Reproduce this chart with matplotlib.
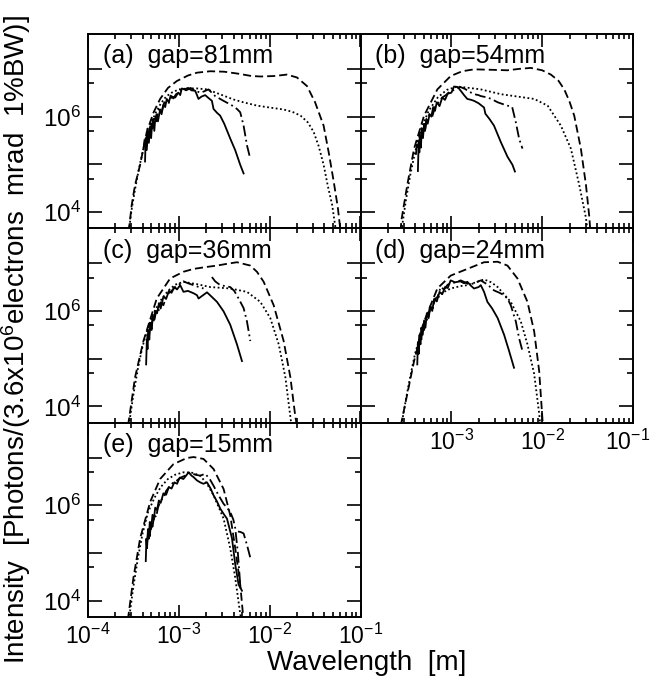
import numpy as np
import matplotlib
matplotlib.use("Agg")
import matplotlib.pyplot as plt
from matplotlib.ticker import FixedLocator, FixedFormatter, NullFormatter
from matplotlib.transforms import ScaledTranslation

plt.rcParams['font.family'] = ['Liberation Sans', 'DejaVu Sans']
plt.rcParams['mathtext.fontset'] = 'custom'
plt.rcParams['mathtext.rm'] = 'Liberation Sans'
plt.rcParams['mathtext.it'] = 'Liberation Sans:italic'
plt.rcParams['mathtext.bf'] = 'Liberation Sans:bold'

# ---------------- data (log10 wavelength [m], log10 intensity) ----------------
panel_labels = ["(a)  gap=81mm", "(b)  gap=54mm", "(c)  gap=36mm", "(d)  gap=24mm", "(e)  gap=15mm"]

# (a) gap = 81 mm
a_dash_x = [-3.56, -3.548, -3.518, -3.482, -3.427, -3.353, -3.28, -3.206, -3.12, -3.022, -2.90, -2.80, -2.655, -2.50, -2.35, -2.20, -2.10, -1.95, -1.81, -1.70, -1.589, -1.50, -1.406, -1.35, -1.295, -1.25, -1.22]
a_dash_y = [3.6, 3.66, 4.16, 4.57, 4.985, 5.68, 6.08, 6.37, 6.60, 6.745, 6.86, 6.92, 6.95, 6.94, 6.90, 6.85, 6.84, 6.85, 6.88, 6.82, 6.64, 6.30, 5.81, 5.25, 4.64, 4.10, 3.6]
a_dot_x = [-3.55, -3.52, -3.48, -3.44, -3.40, -3.35, -3.30, -3.25, -3.20, -3.14, -3.08, -3.00, -2.90, -2.80, -2.69, -2.55, -2.40, -2.29, -2.14, -2.00, -1.85, -1.75, -1.66, -1.58, -1.516, -1.46, -1.406, -1.36, -1.313, -1.27]
a_dot_y = [3.6, 4.05, 4.50, 4.90, 5.25, 5.60, 5.88, 6.10, 6.27, 6.42, 6.50, 6.57, 6.59, 6.59, 6.57, 6.47, 6.36, 6.30, 6.23, 6.19, 6.15, 6.10, 6.02, 5.88, 5.68, 5.38, 4.99, 4.55, 4.16, 3.6]
a_dd_x = [-3.39, -3.375, -3.36, -3.345, -3.33, -3.31, -3.29, -3.27, -3.25, -3.22, -3.19, -3.16, -3.12, -3.08, -3.04, -3.00, -2.96, -2.92, -2.87, -2.82, -2.76, -2.72, -2.674, -2.60, -2.508, -2.42, -2.36, -2.324, -2.287, -2.25, -2.214]
a_dd_y = [5.30, 5.55, 5.40, 5.75, 5.60, 5.90, 5.75, 6.00, 5.90, 6.15, 6.10, 6.30, 6.25, 6.42, 6.40, 6.52, 6.58, 6.55, 6.60, 6.54, 6.50, 6.53, 6.57, 6.43, 6.33, 6.24, 6.16, 6.09, 5.81, 5.40, 5.12]
a_sol_x = [-3.372, -3.365, -3.353, -3.340, -3.330, -3.316, -3.305, -3.298, -3.285, -3.270, -3.260, -3.245, -3.230, -3.206, -3.190, -3.170, -3.150, -3.133, -3.110, -3.090, -3.060, -3.030, -3.004, -2.985, -2.967, -2.940, -2.900, -2.860, -2.820, -2.800, -2.784, -2.750, -2.710, -2.680, -2.636, -2.618, -2.580, -2.545, -2.500, -2.434, -2.380, -2.324, -2.287]
a_sol_y = [5.06, 5.55, 5.30, 5.70, 5.45, 5.80, 5.55, 5.75, 5.95, 5.70, 5.95, 6.05, 5.90, 6.15, 6.05, 6.25, 6.20, 6.37, 6.30, 6.44, 6.38, 6.47, 6.50, 6.45, 6.59, 6.57, 6.60, 6.55, 6.54, 6.45, 6.37, 6.42, 6.45, 6.40, 6.33, 6.16, 6.08, 6.02, 5.85, 5.54, 5.30, 4.99, 4.81]

# (b) gap = 54 mm
b_dash_x = [-3.56, -3.548, -3.485, -3.41, -3.30, -3.154, -3.007, -2.88, -2.75, -2.55, -2.382, -2.25, -2.125, -2.00, -1.904, -1.82, -1.757, -1.70, -1.647, -1.574, -1.518, -1.48, -1.47]
b_dash_y = [3.6, 3.85, 4.57, 5.33, 6.02, 6.57, 6.85, 6.95, 6.99, 6.98, 6.97, 7.00, 7.02, 6.97, 6.88, 6.75, 6.57, 6.32, 6.02, 5.33, 4.57, 3.88, 3.6]
b_dot_x = [-3.55, -3.50, -3.45, -3.40, -3.33, -3.25, -3.15, -3.05, -2.934, -2.80, -2.676, -2.456, -2.272, -2.088, -1.94, -1.794, -1.684, -1.592, -1.518, -1.50]
b_dot_y = [3.6, 4.25, 4.80, 5.25, 5.75, 6.12, 6.40, 6.56, 6.63, 6.60, 6.57, 6.47, 6.42, 6.37, 6.23, 5.81, 5.33, 4.57, 3.88, 3.6]
b_dd_x = [-3.39, -3.375, -3.36, -3.345, -3.33, -3.31, -3.29, -3.27, -3.24, -3.21, -3.18, -3.14, -3.10, -3.06, -3.02, -2.98, -2.94, -2.90, -2.85, -2.80, -2.75, -2.70, -2.676, -2.60, -2.55, -2.49, -2.43, -2.382, -2.33, -2.29, -2.254, -2.217]
b_dd_y = [5.20, 5.50, 5.35, 5.65, 5.55, 5.80, 5.70, 5.95, 6.05, 6.00, 6.20, 6.30, 6.40, 6.45, 6.52, 6.55, 6.60, 6.62, 6.58, 6.52, 6.47, 6.45, 6.43, 6.40, 6.36, 6.30, 6.26, 6.23, 6.20, 5.88, 5.54, 5.33]
b_sol_x = [-3.368, -3.36, -3.352, -3.345, -3.335, -3.325, -3.312, -3.30, -3.29, -3.275, -3.26, -3.24, -3.22, -3.20, -3.18, -3.16, -3.13, -3.10, -3.07, -3.04, -3.00, -2.97, -2.93, -2.90, -2.86, -2.824, -2.78, -2.75, -2.70, -2.66, -2.64, -2.625, -2.58, -2.53, -2.456, -2.382, -2.327, -2.30]
b_sol_y = [4.86, 5.45, 5.25, 5.60, 5.35, 5.75, 5.55, 5.85, 5.70, 5.95, 5.85, 6.05, 6.00, 6.20, 6.12, 6.30, 6.22, 6.40, 6.35, 6.48, 6.50, 6.63, 6.62, 6.55, 6.45, 6.37, 6.35, 6.33, 6.28, 6.22, 6.19, 6.06, 5.95, 5.81, 5.47, 5.16, 4.99, 4.85]

# (c) gap = 36 mm
c_dash_x = [-3.56, -3.548, -3.482, -3.39, -3.243, -3.096, -2.95, -2.838, -2.70, -2.58, -2.46, -2.36, -2.213, -2.14, -2.066, -1.956, -1.846, -1.772, -1.717, -1.70]
c_dash_y = [3.6, 3.74, 4.61, 5.37, 6.26, 6.68, 6.82, 6.88, 6.92, 6.95, 6.99, 7.02, 6.95, 6.82, 6.61, 6.12, 5.37, 4.61, 3.78, 3.6]
c_dot_x = [-3.55, -3.50, -3.45, -3.40, -3.34, -3.28, -3.20, -3.12, -3.04, -2.949, -2.80, -2.654, -2.434, -2.25, -2.103, -1.993, -1.90, -1.827, -1.772, -1.76]
c_dot_y = [3.6, 4.25, 4.80, 5.25, 5.65, 5.95, 6.22, 6.42, 6.55, 6.61, 6.56, 6.50, 6.47, 6.40, 6.19, 5.85, 5.30, 4.61, 3.78, 3.6]
c_dd_x = [-3.353, -3.34, -3.33, -3.315, -3.30, -3.285, -3.27, -3.25, -3.23, -3.20, -3.17, -3.13, -3.09, -3.05, -3.00, -2.949, -2.90, -2.838, -2.78, -2.728, np.nan, -2.636, -2.60, -2.544, -2.49, -2.434, -2.39, -2.342, -2.287, -2.25, -2.213]
c_dd_y = [5.30, 5.60, 5.45, 5.75, 5.62, 5.88, 5.80, 6.00, 5.95, 6.18, 6.12, 6.35, 6.40, 6.48, 6.55, 6.62, 6.58, 6.54, 6.50, 6.47, np.nan, 6.71, 6.62, 6.54, 6.52, 6.50, 6.42, 6.26, 6.06, 5.78, 5.37]
c_sol_x = [-3.36, -3.352, -3.345, -3.335, -3.325, -3.315, -3.30, -3.29, -3.275, -3.26, -3.24, -3.22, -3.20, -3.17, -3.14, -3.11, -3.08, -3.05, -3.02, -2.985, -2.949, -2.90, -2.838, -2.80, -2.783, -2.74, -2.69, -2.64, -2.58, -2.507, -2.434, -2.36, -2.305]
c_sol_y = [4.88, 5.40, 5.20, 5.60, 5.40, 5.75, 5.60, 5.90, 5.80, 6.00, 5.95, 6.15, 6.05, 6.30, 6.25, 6.42, 6.38, 6.50, 6.45, 6.54, 6.40, 6.42, 6.37, 6.33, 6.26, 6.32, 6.39, 6.30, 6.19, 5.99, 5.71, 5.30, 4.95]

# (d) gap = 24 mm
d_dash_x = [-3.56, -3.548, -3.485, -3.41, -3.30, -3.154, -3.007, -2.824, -2.64, -2.49, -2.382, -2.272, -2.162, -2.088, -2.033, -1.996, -1.99]
d_dash_y = [3.6, 3.68, 4.26, 4.95, 5.78, 6.47, 6.74, 6.88, 7.02, 7.03, 6.95, 6.68, 6.19, 5.57, 4.74, 3.71, 3.6]
d_dot_x = [-3.55, -3.50, -3.45, -3.40, -3.34, -3.27, -3.18, -3.10, -3.007, -2.90, -2.824, -2.73, -2.64, -2.56, -2.49, -2.346, -2.235, -2.162, -2.088, -2.033, -2.02]
d_dot_y = [3.6, 4.15, 4.65, 5.10, 5.50, 5.88, 6.20, 6.38, 6.47, 6.52, 6.54, 6.60, 6.66, 6.60, 6.50, 6.19, 5.78, 5.30, 4.68, 3.85, 3.6]
d_dd_x = [-3.36, -3.345, -3.33, -3.315, -3.30, -3.28, -3.26, -3.24, -3.21, -3.18, -3.15, -3.118, -3.08, -3.04, -3.00, -2.95, -2.897, -2.85, -2.80, -2.75, -2.70, -2.676, -2.60, -2.53, -2.47, -2.419, -2.38, -2.346, -2.29, -2.254, -2.217]
d_dd_y = [5.25, 5.55, 5.40, 5.70, 5.60, 5.85, 5.80, 6.05, 6.00, 6.25, 6.30, 6.50, 6.45, 6.55, 6.58, 6.60, 6.64, 6.60, 6.55, 6.58, 6.62, 6.64, 6.55, 6.43, 6.38, 6.33, 6.25, 6.12, 5.78, 5.43, 5.16]
d_sol_x = [-3.375, -3.368, -3.36, -3.35, -3.34, -3.33, -3.315, -3.30, -3.285, -3.27, -3.25, -3.23, -3.21, -3.19, -3.16, -3.13, -3.10, -3.07, -3.04, -3.007, -2.96, -2.90, -2.86, -2.824, -2.78, -2.75, -2.70, -2.676, -2.64, -2.603, -2.55, -2.49, -2.419, -2.364, -2.31]
d_sol_y = [4.88, 5.35, 5.10, 5.50, 5.30, 5.65, 5.50, 5.80, 5.65, 5.95, 5.85, 6.10, 6.00, 6.25, 6.20, 6.40, 6.35, 6.50, 6.48, 6.64, 6.60, 6.62, 6.58, 6.61, 6.52, 6.47, 6.50, 6.54, 6.40, 6.19, 6.05, 5.85, 5.50, 5.16, 4.81]

# (e) gap = 15 mm
e_dash_x = [-3.565, -3.555, -3.50, -3.426, -3.316, -3.206, -3.06, -2.912, -2.838, -2.728, -2.618, -2.507, -2.434, -2.379, -2.324, -2.294, -2.29]
e_dash_y = [3.6, 3.69, 4.48, 5.31, 6.07, 6.55, 6.86, 6.99, 7.01, 6.97, 6.76, 6.34, 5.79, 5.10, 4.34, 3.72, 3.6]
e_dot_x = [-3.55, -3.50, -3.45, -3.40, -3.34, -3.27, -3.20, -3.12, -3.04, -2.949, -2.85, -2.765, -2.69, -2.618, -2.507, -2.434, -2.379, -2.324, -2.31]
e_dot_y = [3.6, 4.30, 4.90, 5.40, 5.85, 6.15, 6.38, 6.55, 6.64, 6.69, 6.68, 6.62, 6.45, 6.21, 5.72, 5.10, 4.48, 3.72, 3.6]
e_dd_x = [-3.35, -3.335, -3.32, -3.305, -3.29, -3.27, -3.25, -3.23, -3.20, -3.17, -3.14, -3.10, -3.06, -3.02, -2.98, -2.93, -2.875, -2.82, -2.765, -2.71, -2.66, -2.618, -2.56, -2.507, -2.47, -2.434, -2.40, -2.379, -2.35, -2.324, np.nan, -2.349, -2.32, -2.287, -2.25, -2.213]
e_dd_y = [5.20, 5.50, 5.35, 5.65, 5.55, 5.80, 5.75, 5.95, 6.10, 6.15, 6.30, 6.40, 6.48, 6.52, 6.58, 6.62, 6.69, 6.64, 6.62, 6.66, 6.55, 6.41, 6.20, 6.03, 5.95, 5.86, 5.70, 5.52, 5.00, 4.34, np.nan, 5.45, 5.44, 5.41, 5.17, 4.90]
e_sol_x = [-3.364, -3.357, -3.35, -3.34, -3.33, -3.32, -3.305, -3.29, -3.275, -3.26, -3.24, -3.22, -3.20, -3.17, -3.14, -3.11, -3.08, -3.05, -3.02, -2.99, -2.95, -2.92, -2.893, -2.86, -2.838, -2.80, -2.765, -2.73, -2.69, -2.65, -2.618, -2.58, -2.544, -2.50, -2.47, -2.415, -2.379, -2.342, -2.305]
e_sol_y = [4.83, 5.30, 5.10, 5.50, 5.30, 5.65, 5.50, 5.80, 5.70, 5.95, 5.90, 6.10, 6.05, 6.25, 6.22, 6.38, 6.35, 6.48, 6.45, 6.58, 6.55, 6.62, 6.69, 6.62, 6.59, 6.52, 6.48, 6.45, 6.48, 6.35, 6.21, 6.08, 5.93, 5.80, 5.72, 5.31, 4.76, 4.34, 4.21]

x_major = [1e-4, 1e-3, 1e-2, 1e-1]
x_major_labels = ["$10^{-4}$", "$10^{-3}$", "$10^{-2}$", "$10^{-1}$"]
y_major = [1e4, 1e5, 1e6, 1e7]
y_major_labels = ["$10^4$", "", "$10^6$", ""]
y_minor = [5e4, 5e5, 5e6]
xlim = (1e-4, 1e-1)
ylim = (10 ** 3.66, 10 ** 7.73)

panels = [
    (a_dash_x, a_dash_y, a_dot_x, a_dot_y, a_dd_x, a_dd_y, a_sol_x, a_sol_y),
    (b_dash_x, b_dash_y, b_dot_x, b_dot_y, b_dd_x, b_dd_y, b_sol_x, b_sol_y),
    (c_dash_x, c_dash_y, c_dot_x, c_dot_y, c_dd_x, c_dd_y, c_sol_x, c_sol_y),
    (d_dash_x, d_dash_y, d_dot_x, d_dot_y, d_dd_x, d_dd_y, d_sol_x, d_sol_y),
    (e_dash_x, e_dash_y, e_dot_x, e_dot_y, e_dd_x, e_dd_y, e_sol_x, e_sol_y),
]
grid_pos = [(0, 0), (0, 1), (1, 0), (1, 1), (2, 0)]

# ---------------- figure ----------------
fig = plt.figure(figsize=(6.52, 6.81), dpi=100)
gs = fig.add_gridspec(3, 2, left=88 / 652, right=633 / 652, top=1 - 34 / 681,
                      bottom=1 - 617 / 681, hspace=0, wspace=0)

x_minor = [m * 10.0 ** e for e in (-4, -3, -2) for m in range(2, 10)]
lw = 1.3
axes = []
for i, (data, (r, c)) in enumerate(zip(panels, grid_pos)):
    ax = fig.add_subplot(gs[r, c])
    axes.append(ax)
    dx, dy, ox, oy, ddx, ddy, sx, sy = [10 ** np.asarray(v, dtype=float) for v in data]
    ax.plot(dx, dy, color='black', lw=lw, ls=(0, (4.5, 2.2)))
    ax.plot(ox, oy, color='black', lw=lw, ls=(0, (1, 1.4)))
    ax.plot(ddx, ddy, color='black', lw=lw, ls=(0, (6, 2, 1, 2)))
    ax.plot(sx, sy, color='black', lw=lw, ls='-')
    ax.set_xscale('log')
    ax.set_yscale('log')
    ax.set_xlim(*xlim)
    ax.set_ylim(*ylim)
    ax.xaxis.set_major_locator(FixedLocator(x_major))
    ax.xaxis.set_minor_locator(FixedLocator(x_minor))
    ax.yaxis.set_major_locator(FixedLocator(y_major))
    ax.yaxis.set_minor_locator(FixedLocator(y_minor))
    ax.xaxis.set_minor_formatter(NullFormatter())
    ax.yaxis.set_minor_formatter(NullFormatter())
    # x labels only on lowest panel of each column
    if i == 4:
        ax.xaxis.set_major_formatter(FixedFormatter(x_major_labels))
    elif i == 3:
        ax.xaxis.set_major_formatter(FixedFormatter([""] + x_major_labels[1:]))
    else:
        ax.xaxis.set_major_formatter(NullFormatter())
    if c == 0:
        ax.yaxis.set_major_formatter(FixedFormatter(y_major_labels))
    else:
        ax.yaxis.set_major_formatter(NullFormatter())
    ax.tick_params(which='both', direction='in', top=True, right=True,
                   width=1.2, labelsize=16.5, pad=5)
    ax.tick_params(axis='x', which='major', length=9)
    ax.tick_params(axis='x', which='minor', length=3.5)
    ax.tick_params(axis='y', which='major', length=10)
    ax.tick_params(axis='y', which='minor', length=4.5)
    ax.tick_params(axis='y', labelsize=17.5)
    for s in ax.spines.values():
        s.set_linewidth(1.4)
    ax.text(0.054, 0.885, panel_labels[i], transform=ax.transAxes,
            fontsize=18, ha='left', va='center')

fig.text(0.562, 0.026, "Wavelength  [m]", ha='center', va='center', fontsize=20)
fig.text(0.024, 0.502, "Intensity  [Photons/(3.6x10$^6$electrons  mrad  1%BW)]",
         rotation=90, ha='center', va='center', fontsize=20)

# keep the right-most tick label of panel (d) inside the figure
fig.canvas.draw()
lab = axes[3].xaxis.get_major_ticks()[-1].label1
lab.set_transform(lab.get_transform() + ScaledTranslation(-4 / 72, 0, fig.dpi_scale_trans))

fig.savefig("out.png", dpi=100)
